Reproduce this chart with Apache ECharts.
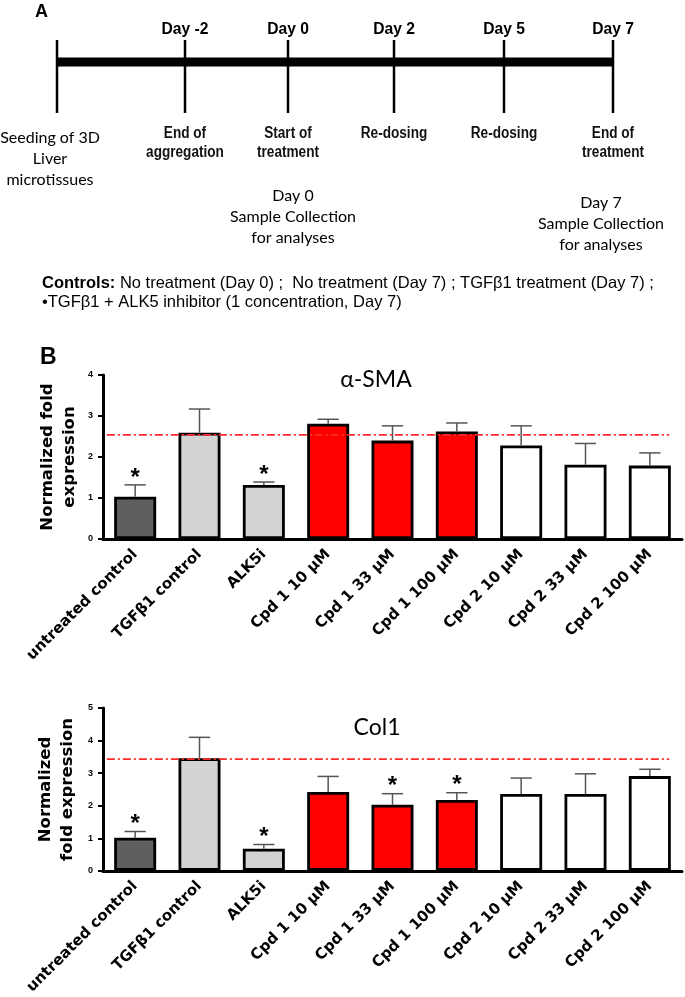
<!DOCTYPE html>
<html><head><meta charset="utf-8">
<script src="https://cdn.jsdelivr.net/npm/echarts@6/dist/echarts.min.js"></script>
<style>html,body{margin:0;padding:0;background:#fff}#c{width:685px;height:997px}</style>
</head><body><div id="c"></div>
<script>
// ---- data ----
const categories = ['untreated control','TGFβ1 control','ALK5i','Cpd 1 10 μM','Cpd 1 33 μM','Cpd 1 100 μM','Cpd 2 10 μM','Cpd 2 33 μM','Cpd 2 100 μM'];
const smaMean  = [1.03, 2.59, 1.32, 2.81, 2.40, 2.62, 2.28, 1.81, 1.79];
const smaErr   = [0.29, 0.58, 0.07, 0.11, 0.36, 0.21, 0.48, 0.52, 0.31];
const smaSig   = [1,0,1,0,0,0,0,0,0];
const smaRef   = 2.54;
const col1Mean = [1.02, 3.46, 0.68, 2.42, 2.03, 2.18, 2.36, 2.36, 2.91];
const col1Err  = [0.19, 0.64, 0.13, 0.48, 0.34, 0.22, 0.49, 0.62, 0.21];
const col1Sig  = [1,0,1,0,1,1,0,0,0];
const col1Ref  = 3.43;
const smaTicks = [0,1,2,3,4];
const col1Ticks = [0,1,2,3,4,5];
const barColors = ['#5f5f5f','#d3d3d3','#d3d3d3','#ff0000','#ff0000','#ff0000','#ffffff','#ffffff','#ffffff'];
const timelineDays = ['', 'Day -2', 'Day 0', 'Day 2', 'Day 5', 'Day 7'];
const timelineEvents = ['', 'End of\naggregation', 'Start of\ntreatment', 'Re-dosing', 'Re-dosing', 'End of\ntreatment'];
const seedingText = 'Seeding of 3D\nLiver\nmicrotissues';
const collectText = ['Day 0\nSample Collection\nfor analyses', 'Day 7\nSample Collection\nfor analyses'];
const controlsLine1 = 'No treatment (Day 0) ;  No treatment (Day 7) ; TGFβ1 treatment (Day 7) ;';
const controlsLine2 = '•TGFβ1 + ALK5 inhibitor (1 concentration, Day 7)';

// ---- layout (panel A diagram) ----
const tlX = [57, 185, 288, 394, 504, 613];
const ARIAL = '"Liberation Sans", Arial, sans-serif';
const CAL = 'Lato, "Open Sans", sans-serif';
const PRISM = '"DejaVu Sans", Arial, sans-serif';

const graphics = [];
graphics.push({type:'text', left:35, top:3, style:{text:'A', font:'bold 18px ' + ARIAL, fill:'#000'}});
graphics.push({type:'rect', shape:{x:tlX[0], y:57.5, width:tlX[5]-tlX[0], height:9}, style:{fill:'#000'}});
tlX.forEach((x,i)=>{
  graphics.push({type:'line', shape:{x1:x, y1:40, x2:x, y2:113}, style:{stroke:'#000', lineWidth:2.5}});
  if (timelineDays[i]) graphics.push({type:'text', x:x, y:29, scaleX:0.92, style:{text:timelineDays[i], font:'bold 17px ' + ARIAL, fill:'#000', align:'center', verticalAlign:'middle'}});
  if (timelineEvents[i]) graphics.push({type:'text', x:x, y:124, scaleX:0.85, style:{text:timelineEvents[i], font:'bold 16px ' + ARIAL, lineHeight:19, fill:'#111', align:'center', verticalAlign:'top'}});
});
graphics.push({type:'text', x:50, y:127, style:{text:seedingText, font:'16px ' + CAL, lineHeight:21, fill:'#000', align:'center', verticalAlign:'top'}});
graphics.push({type:'text', x:293, y:185, style:{text:collectText[0], font:'16px ' + CAL, lineHeight:21, fill:'#000', align:'center', verticalAlign:'top'}});
graphics.push({type:'text', x:601, y:192, style:{text:collectText[1], font:'16px ' + CAL, lineHeight:21, fill:'#000', align:'center', verticalAlign:'top'}});
graphics.push({type:'text', left:42, top:274, style:{
  text:'{b|Controls:} ' + controlsLine1 + '\n' + controlsLine2,
  font:'16.5px ' + ARIAL, lineHeight:19, fill:'#000',
  rich:{b:{font:'bold 16.5px ' + ARIAL, fill:'#000'}}
}});
graphics.push({type:'text', left:40, top:346, style:{text:'B', font:'bold 23px ' + ARIAL, fill:'#000'}});
graphics.push({type:'text', x:376, y:380, style:{text:'α-SMA', font:'23px ' + CAL, fill:'#000', align:'center', verticalAlign:'middle'}});
graphics.push({type:'text', x:377, y:728, style:{text:'Col1', font:'23px ' + CAL, fill:'#000', align:'center', verticalAlign:'middle'}});

// ---- chart helpers ----
function errRender(params, api){
  const i = api.value(0), m = api.value(1), e = api.value(2);
  const p0 = api.coord([i, m]), p1 = api.coord([i, m + e]);
  const half = api.size([1,0])[0] * 0.165;
  return {type:'group', children:[
    {type:'line', shape:{x1:p0[0], y1:p0[1], x2:p1[0], y2:p1[1]}, style:{stroke:'#555', lineWidth:1.5}},
    {type:'line', shape:{x1:p1[0]-half, y1:p1[1], x2:p1[0]+half, y2:p1[1]}, style:{stroke:'#555', lineWidth:1.5}}
  ]};
}
function starRender(params, api){
  const p = api.coord([api.value(0), api.value(1)]);
  return {type:'text', x:p[0], y:p[1] + 5, style:{text:'*', font:'bold 24px ' + ARIAL, fill:'#000', align:'center', verticalAlign:'bottom'}};
}
function panelSeries(idx, mean, err, sig, ref){
  const xCat = idx*2, xVal = idx*2+1;
  return [
    {type:'bar', xAxisIndex:xCat, yAxisIndex:idx, barWidth:42, z:2,
     data: mean.map((v,i)=>({value:v, itemStyle:{color:barColors[i], borderColor:'#000', borderWidth:2.8}}))},
    {type:'custom', xAxisIndex:xCat, yAxisIndex:idx, z:3, renderItem:errRender,
     data: mean.map((v,i)=>[i, v, err[i]])},
    {type:'custom', xAxisIndex:xCat, yAxisIndex:idx, z:4, renderItem:starRender,
     data: mean.map((v,i)=>sig[i] ? [i, v + err[i]] : null).filter(d=>d)},
    {type:'line', xAxisIndex:xVal, yAxisIndex:idx, z:5, symbol:'none', silent:true,
     lineStyle:{color:'#ff2a2a', width:1.6, type:[8,3,2,3]},
     data:[[-0.44, ref],[8.3, ref]]}
  ];
}
function catAxis(g){
  return {type:'category', gridIndex:g, data:categories,
    axisLine:{onZero:false, lineStyle:{color:'#000', width:3}},
    axisTick:{alignWithLabel:true, length:6, lineStyle:{color:'#000', width:2.5}},
    axisLabel:{rotate:45, interval:0, margin:13, color:'#000', fontFamily:PRISM, fontWeight:'bold', fontSize:15}};
}
function valXAxis(g){
  return {type:'value', gridIndex:g, min:-0.5, max:8.5, show:false};
}
function yAx(g, ticks, name, gap){
  return {type:'value', gridIndex:g, min:ticks[0], max:ticks[ticks.length-1], interval:1,
    name:name, nameLocation:'middle', nameRotate:90, nameGap:gap, nameMoveOverlap:false,
    nameTextStyle:{fontFamily:PRISM, fontWeight:'bold', fontSize:16.5, lineHeight:22, color:'#000'},
    axisLine:{show:true, onZero:false, lineStyle:{color:'#000', width:3}},
    axisTick:{show:true, length:5, lineStyle:{color:'#000', width:2}},
    splitLine:{show:false},
    axisLabel:{margin:10, color:'#000', fontFamily:ARIAL, fontWeight:'bold', fontSize:9}};
}

const chart = echarts.init(document.getElementById('c'), null, {renderer:'canvas'});
chart.setOption({
  animation:false,
  backgroundColor:'#fff',
  grid:[
    {left:103, top:375, width:579, height:164},
    {left:103, top:708, width:579, height:163}
  ],
  xAxis:[catAxis(0), valXAxis(0), catAxis(1), valXAxis(1)],
  yAxis:[yAx(0, smaTicks, 'Normalized fold\nexpression', 22), yAx(1, col1Ticks, 'Normalized\nfold expression', 24)],
  series:[].concat(panelSeries(0, smaMean, smaErr, smaSig, smaRef), panelSeries(1, col1Mean, col1Err, col1Sig, col1Ref)),
  graphic:graphics
});
</script></body></html>
